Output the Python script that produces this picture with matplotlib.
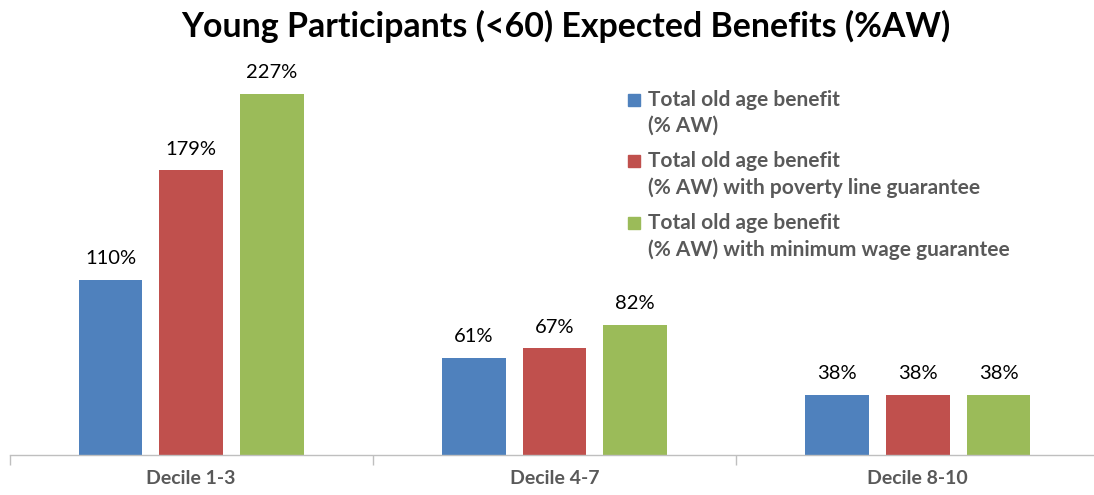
import matplotlib
matplotlib.use("Agg")
import matplotlib.pyplot as plt
from matplotlib.patches import Rectangle
import numpy as np

categories = ["Decile 1-3", "Decile 4-7", "Decile 8-10"]
series_names = [
    "Total old age benefit\n(% AW)",
    "Total old age benefit\n(% AW) with poverty line guarantee",
    "Total old age benefit\n(% AW) with minimum wage guarantee",
]
benefit = [110, 61, 38]
benefit_poverty = [179, 67, 38]
benefit_minwage = [227, 82, 38]
colors = ["#4F81BD", "#C0504D", "#9BBB59"]

plt.rcParams["font.family"] = ["Lato", "DejaVu Sans"]

W, H = 1094, 495
fig = plt.figure(figsize=(W / 100, H / 100), dpi=100)
ax = fig.add_axes([9.5 / W, (H - 455) / H, 1090 / W, 397.5 / H])

x = np.arange(len(categories))
width = 0.176
step = 0.222
all_series = [benefit, benefit_poverty, benefit_minwage]
for i, (vals, col) in enumerate(zip(all_series, colors)):
    bars = ax.bar(x + (i - 1) * step, vals, width, color=col, zorder=2)
    for b, v in zip(bars, vals):
        ax.text(b.get_x() + b.get_width() / 2, v + 8, f"{v}%",
                ha="center", va="bottom", fontsize=14.5, color="black")

ax.set_xlim(-0.5, 2.5)
ax.set_ylim(0, 250)
ax.set_yticks([])
for s in ["top", "right", "left"]:
    ax.spines[s].set_visible(False)
ax.spines["bottom"].set_color("#BFBFBF")
ax.spines["bottom"].set_linewidth(1.0)
ax.set_xticks([-0.5, 0.5, 1.5, 2.5])
ax.set_xticklabels([])
ax.tick_params(axis="x", length=7, color="#BFBFBF", width=1.0)
for xi, c in zip(x, categories):
    fig.text(ax.transData.transform((xi, 0))[0] / W, 1 - 478 / H, c,
             ha="center", va="center", fontsize=14, fontweight="bold",
             color="#595959")

fig.text(0.517, 1 - 26 / H, "Young Participants (<60) Expected Benefits (%AW)",
         ha="center", va="center", fontsize=24.4, fontweight="bold", color="black")

# legend drawn by hand: square beside the first line of each two-line label
row_y = [100, 161, 223]
for name, col, yy in zip(series_names, colors, row_y):
    fig.patches.append(Rectangle((628 / W, 1 - (yy + 6) / H), 12 / W, 12 / H,
                                 transform=fig.transFigure, color=col))
    fig.text(648 / W, 1 - (yy - 10) / H, name, ha="left", va="top",
             fontsize=15, fontweight="bold", color="#595959", linespacing=1.38)

fig.savefig("out.png", dpi=100)
